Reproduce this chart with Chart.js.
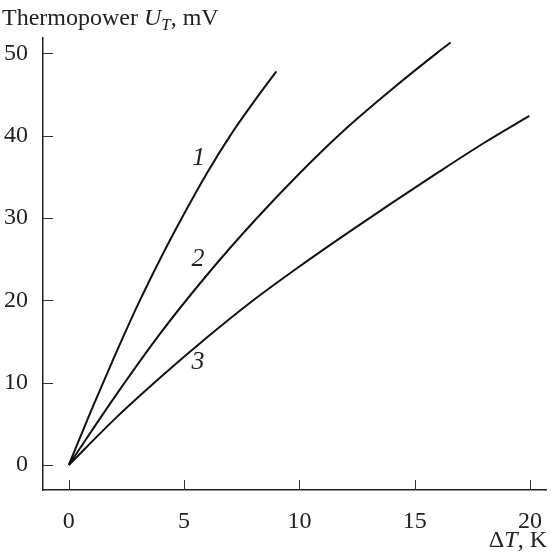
<!DOCTYPE html>
<html>
<head>
<meta charset="utf-8">
<script src="https://cdn.jsdelivr.net/npm/chart.js@4.4.1/dist/chart.umd.min.js"></script>
<style>
  html, body { margin: 0; padding: 0; background: #fff; }
  #wrap { position: relative; width: 551px; height: 554px; font-family: "Liberation Serif", "Times New Roman", serif; color: #222; }
  #chart { position: absolute; left: 0; top: 0; }
  .title { position: absolute; left: 2px; top: 5px; font-size: 24px; line-height: 24px; white-space: nowrap; }
  .xlabel { position: absolute; right: 4px; top: 527px; font-size: 24px; line-height: 24px; white-space: nowrap; }
  .title i, .xlabel i { font-style: italic; }
  .title sub { font-size: 0.7em; font-style: italic; vertical-align: -0.3em; line-height: 0; }
</style>
</head>
<body>
<div id="wrap">
  <canvas id="chart" width="551" height="554"></canvas>
  <div class="title">Thermopower <i>U</i><sub>T</sub>, mV</div>
  <div class="xlabel">Δ<i>T</i>, K</div>
</div>
<script>
// Temperature difference (K) and thermopower (mV).
const CURVE1_DT = [0, 1, 2, 3, 4, 5, 6, 7, 8, 9];
const CURVE1_U = [0, 6.8, 13.3, 19.5, 25.2, 30.5, 35.5, 40.0, 44.0, 47.8];

const CURVE2_DT = [0, 2, 4, 6, 8, 10, 12, 14, 16, 16.56];
const CURVE2_U = [0, 8.3, 16.1, 23.1, 29.5, 35.4, 40.8, 45.6, 50.1, 51.3];

const CURVE3_DT = [0, 2, 4, 6, 8, 10, 12, 14, 16, 18, 19.97];
const CURVE3_U = [0, 5.6, 10.7, 15.5, 20.0, 24.1, 28.0, 31.8, 35.5, 39.1, 42.4];

const CURVE_LABELS = ["1", "2", "3"];
const LABEL_DT = [5.63, 5.6, 5.6];
const LABEL_U = [37.2, 25.0, 12.5];

const X_TICKS = [0, 5, 10, 15, 20];
const Y_TICKS = [0, 10, 20, 30, 40, 50];

const SERIF = '"Liberation Serif", "Times New Roman", serif';
const INK = "#111";

function toPoints(xs, ys) {
  return xs.map((x, i) => ({ x: x, y: ys[i] }));
}

function curve(xs, ys) {
  return {
    data: toPoints(xs, ys),
    borderColor: INK,
    borderWidth: 2,
    pointRadius: 0,
    fill: false,
    showLine: true,
    cubicInterpolationMode: "monotone",
  };
}

// ticks point into the plot, and the curve numbers sit next to their lines
const innerTicks = {
  id: "innerTicks",
  afterDatasetsDraw(chart) {
    const { ctx, chartArea, scales } = chart;
    ctx.save();
    ctx.strokeStyle = "#333";
    ctx.lineWidth = 1;
    ctx.beginPath();
    X_TICKS.forEach((v) => {
      const px = Math.round(scales.x.getPixelForValue(v)) + 0.5;
      ctx.moveTo(px, chartArea.bottom);
      ctx.lineTo(px, chartArea.bottom - 10);
    });
    Y_TICKS.forEach((v) => {
      const py = Math.round(scales.y.getPixelForValue(v)) + 0.5;
      ctx.moveTo(chartArea.left, py);
      ctx.lineTo(chartArea.left + 10, py);
    });
    ctx.stroke();

    ctx.fillStyle = "#222";
    ctx.font = "italic 26px " + SERIF;
    ctx.textAlign = "center";
    ctx.textBaseline = "middle";
    CURVE_LABELS.forEach((t, i) => {
      ctx.fillText(t, scales.x.getPixelForValue(LABEL_DT[i]), scales.y.getPixelForValue(LABEL_U[i]));
    });
    ctx.restore();
  },
};

function drawChart() {
  new Chart(document.getElementById("chart"), {
    type: "scatter",
    data: {
      datasets: [
        curve(CURVE1_DT, CURVE1_U),
        curve(CURVE2_DT, CURVE2_U),
        curve(CURVE3_DT, CURVE3_U),
      ],
    },
    options: {
      responsive: false,
      animation: false,
      devicePixelRatio: 1,
      layout: { padding: { top: 38, right: 0, left: 0, bottom: 0 } },
      plugins: { legend: { display: false }, tooltip: { enabled: false } },
      scales: {
        x: {
          type: "linear",
          min: -1.12,
          max: 20.73,
          afterBuildTicks: (scale) => { scale.ticks = X_TICKS.map((v) => ({ value: v })); },
          afterFit: (scale) => { scale.height = 64; },
          grid: { display: false },
          border: { display: true, color: "#222", width: 1.5 },
          ticks: { color: "#222", font: { family: SERIF, size: 24 }, padding: 9, maxRotation: 0 },
        },
        y: {
          type: "linear",
          min: -3.04,
          max: 51.85,
          afterBuildTicks: (scale) => { scale.ticks = Y_TICKS.map((v) => ({ value: v })); },
          afterFit: (scale) => { scale.width = 43; },
          grid: { display: false },
          border: { display: true, color: "#222", width: 1.5 },
          ticks: { color: "#222", font: { family: SERIF, size: 24 }, padding: 7 },
        },
      },
    },
    plugins: [innerTicks],
  });
}

// make sure the serif face is ready before the canvas text is drawn
Promise.all([
  document.fonts.load('24px "Liberation Serif"'),
  document.fonts.load('italic 26px "Liberation Serif"'),
]).then(drawChart, drawChart);
</script>
</body>
</html>
